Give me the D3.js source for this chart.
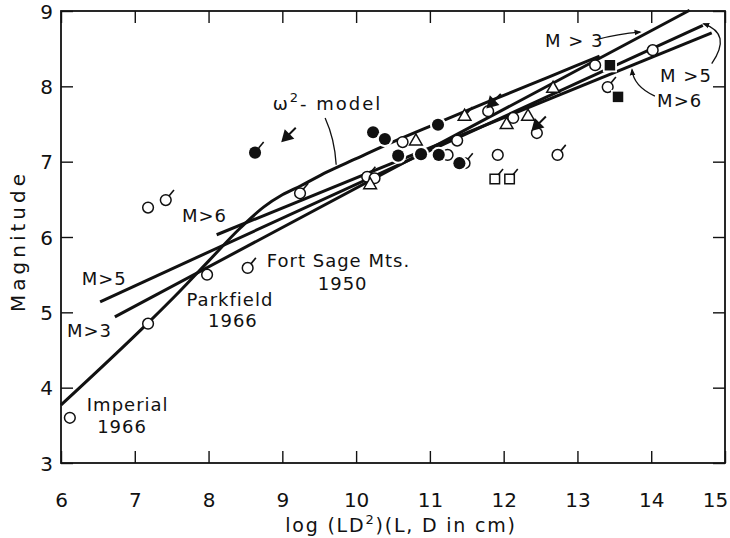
<!DOCTYPE html>
<html>
<head>
<meta charset="utf-8">
<script src="https://cdn.jsdelivr.net/npm/d3@7"></script>
<style>
  body { margin: 0; background: #fff; }
  svg text { font-family: "DejaVu Sans", "Liberation Sans", Arial, sans-serif; fill: #111; }
</style>
</head>
<body>
<div id="chart"></div>
<script>
// axis ticks
const xTicks = [6, 7, 8, 9, 10, 11, 12, 13, 14, 15];
const yTicks = [3, 4, 5, 6, 7, 8, 9];

// model curve and fitted lines, [log LD^2, M]
const omega2Model = [[6.0, 3.77], [7.18, 4.86], [7.6, 5.27], [8.0, 5.68], [8.43, 6.12], [8.75, 6.40],
  [9.0, 6.56], [9.25, 6.68], [9.6, 6.86], [10.0, 7.04], [10.4, 7.22], [11.0, 7.47], [11.8, 7.80],
  [12.6, 8.12], [13.3, 8.40]];
const lineM3 = [[6.73, 4.94], [14.52, 9.01]];
const lineM5 = [[6.53, 5.14], [14.70, 8.81]];
const lineM6 = [[8.11, 6.03], [14.82, 8.71]];

// events
const openCircles = [[6.12, 3.60], [7.18, 4.85], [7.98, 5.50], [7.18, 6.39], [10.25, 6.78], [10.63, 7.26],
  [11.24, 7.09], [11.37, 7.28], [11.92, 7.09], [11.79, 7.67], [12.13, 7.58], [13.24, 8.28],
  [14.02, 8.48], [12.45, 7.38]];
const openCirclesFlagged = [[8.53, 5.59], [7.42, 6.49], [9.24, 6.58], [10.15, 6.80], [12.73, 7.09],
  [13.41, 7.99], [11.47, 6.98]];
const filledCircles = [[10.23, 7.39], [10.39, 7.30], [10.57, 7.08], [10.88, 7.10], [11.11, 7.49],
  [11.12, 7.09], [11.40, 6.98]];
const filledCirclesFlagged = [[8.63, 7.12]];
const openTriangles = [[10.19, 6.69], [10.81, 7.27], [12.04, 7.49], [12.33, 7.60], [12.67, 7.97]];
const openTrianglesFlagged = [[11.47, 7.60]];
const arrowTriangles = [[9.06, 7.33], [11.84, 7.78], [12.45, 7.48]];
const openSquaresFlagged = [[11.88, 6.77], [12.08, 6.77]];
const filledSquares = [[13.44, 8.28], [13.55, 7.86]];

const W = 730, H = 538;
const margin = {left: 61, right: 5, top: 11, bottom: 75};

const svg = d3.select("#chart").append("svg")
  .attr("width", W).attr("height", H);

const x = d3.scaleLinear().domain([6, 15]).range([margin.left, W - margin.right]);
const y = d3.scaleLinear().domain([3, 9]).range([H - margin.bottom, margin.top]);

const defs = svg.append("defs");
defs.append("marker").attr("id", "head")
  .attr("viewBox", "0 0 10 10").attr("refX", 8).attr("refY", 5)
  .attr("markerWidth", 7).attr("markerHeight", 7).attr("markerUnits", "userSpaceOnUse")
  .attr("orient", "auto")
  .append("path").attr("d", "M0,1 L10,5 L0,9 Z").attr("fill", "#111");

// frame + inward ticks
svg.append("rect")
  .attr("x", x(6)).attr("y", y(9))
  .attr("width", x(15) - x(6)).attr("height", y(3) - y(9))
  .attr("fill", "none").attr("stroke", "#111").attr("stroke-width", 1.8);

const tick = 12;
const gx = svg.append("g").attr("transform", `translate(0,${y(3)})`)
  .call(d3.axisBottom(x).tickValues(xTicks).tickSizeInner(-tick).tickSizeOuter(0)
    .tickFormat(d3.format("d")));
gx.selectAll("text").attr("y", 44).attr("dy", 0).style("font-size", "20px")
  .attr("dx", d => d === 15 ? -10 : 0);
const gy = svg.append("g").attr("transform", `translate(${x(6)},0)`)
  .call(d3.axisLeft(y).tickValues(yTicks).tickSizeInner(-tick).tickSizeOuter(0).tickPadding(8)
    .tickFormat(d3.format("d")));
gy.selectAll("text").style("font-size", "20px").attr("dy", "0.36em");
svg.append("g").attr("transform", `translate(0,${y(9)})`)
  .call(d3.axisTop(x).tickValues(xTicks).tickSizeInner(-tick).tickSizeOuter(0).tickFormat(""));
svg.append("g").attr("transform", `translate(${x(15)},0)`)
  .call(d3.axisRight(y).tickValues(yTicks).tickSizeInner(-tick).tickSizeOuter(0).tickFormat(""));
svg.selectAll(".domain").remove();
svg.selectAll(".tick line").attr("stroke", "#111").attr("stroke-width", 1.4);
svg.selectAll(".tick text").attr("fill", "#111")
  .attr("font-family", "DejaVu Sans, Liberation Sans, Arial, sans-serif");

// axis titles
svg.append("text")
  .attr("transform", `translate(25,${(y(3) + y(9)) / 2 + 4}) rotate(-90)`)
  .attr("text-anchor", "middle").style("font-size", "20px").style("letter-spacing", "4px")
  .text("Magnitude");
const xl = svg.append("text")
  .attr("x", 401).attr("y", 532)
  .attr("text-anchor", "middle").style("font-size", "19px").style("letter-spacing", "1.8px");
xl.append("tspan").text("log (LD");
xl.append("tspan").attr("dy", -8).style("font-size", "13px").text("2");
xl.append("tspan").attr("dy", 8).text(")(L, D in cm)");

// lines
const line = d3.line().x(d => x(d[0])).y(d => y(d[1]));
const plot = svg.append("g");
[lineM3, lineM5, lineM6].forEach(l => {
  plot.append("path").attr("d", line(l))
    .attr("fill", "none").attr("stroke", "#111").attr("stroke-width", 3);
});
plot.append("path").attr("d", line.curve(d3.curveMonotoneX)(omega2Model))
  .attr("fill", "none").attr("stroke", "#111").attr("stroke-width", 3);
line.curve(d3.curveLinear);

// markers
const sym = (type, size) => d3.symbol().type(type).size(size)();
const pts = svg.append("g");

function drawSet(data, type, size, filled, flag) {
  const g = pts.append("g");
  data.forEach(d => {
    const cx = x(d[0]), cy = y(d[1]);
    const r = Math.sqrt(size / Math.PI);
    if (filled) {
      g.append("path").attr("d", sym(type, size * 1.8))
        .attr("transform", `translate(${cx},${cy})`).attr("fill", "#fff");
    }
    g.append("path").attr("d", sym(type, size))
      .attr("transform", `translate(${cx},${cy})`)
      .attr("fill", filled ? "#111" : "#fff")
      .attr("stroke", filled ? "none" : "#111")
      .attr("stroke-width", 1.5);
    if (flag) {
      g.append("line")
        .attr("x1", cx + r * 0.6).attr("y1", cy - r * 0.75)
        .attr("x2", cx + r * 0.6 + 5).attr("y2", cy - r * 0.75 - 6)
        .attr("stroke", "#111").attr("stroke-width", 1.6);
    }
  });
}

drawSet(openCirclesFlagged, d3.symbolCircle, 90, false, true);
drawSet(openCircles, d3.symbolCircle, 90, false, false);
drawSet(openTriangles, d3.symbolTriangle, 70, false, false);
drawSet(openTrianglesFlagged, d3.symbolTriangle, 70, false, true);
drawSet(openSquaresFlagged, d3.symbolSquare, 90, false, true);
drawSet(filledCircles, d3.symbolCircle, 115, true, false);
drawSet(filledCirclesFlagged, d3.symbolCircle, 115, true, true);
drawSet(filledSquares, d3.symbolSquare, 110, true, false);

// arrow-shaped markers (filled head pointing down-left, stem up-right)
arrowTriangles.forEach(d => {
  const cx = x(d[0]), cy = y(d[1]);
  const g = pts.append("g").attr("transform", `translate(${cx},${cy})`);
  g.append("line").attr("x1", 0).attr("y1", 0).attr("x2", 9).attr("y2", -9)
    .attr("stroke", "#111").attr("stroke-width", 2);
  g.append("path").attr("d", sym(d3.symbolTriangle, 80))
    .attr("transform", "rotate(225)").attr("fill", "#111");
});

// annotations (positions in data units)
const notes = [
  {t: "M>6", at: [7.64, 6.20]},
  {t: "M>5", at: [6.28, 5.36]},
  {t: "M>3", at: [6.08, 4.67]},
  {t: "Parkfield", at: [8.29, 5.08], mid: true},
  {t: "1966", at: [8.33, 4.81], mid: true},
  {t: "Fort Sage Mts.", at: [8.79, 5.60]},
  {t: "1950", at: [9.48, 5.30]},
  {t: "Imperial", at: [6.35, 3.69]},
  {t: "1966", at: [6.49, 3.40]},
  {t: "M > 3", at: [12.56, 8.52]},
  {t: "M >5", at: [14.12, 8.06]},
  {t: "M>6", at: [14.08, 7.73]}
];
notes.forEach(n => {
  svg.append("text").attr("x", x(n.at[0])).attr("y", y(n.at[1]))
    .attr("text-anchor", n.mid ? "middle" : "start")
    .style("font-size", "18px").style("letter-spacing", "1px")
    .text(n.t);
});
const om = svg.append("text").attr("x", x(8.87)).attr("y", y(7.69))
  .style("font-size", "18px").style("letter-spacing", "2px");
om.append("tspan").text("ω");
om.append("tspan").attr("dy", -8).style("font-size", "13px").text("2");
om.append("tspan").attr("dy", 8).text("- model");

const pointers = [
  {p: [[9.58, 7.58], [9.71, 7.30], [9.73, 6.96]], head: false},
  {p: [[13.26, 8.62], [13.55, 8.70], [13.85, 8.72]], head: true},
  {p: [[14.82, 8.30], [15.10, 8.70], [14.71, 8.83]], head: true},
  {p: [[14.05, 7.87], [13.76, 8.00], [13.74, 8.22]], head: true}
];
pointers.forEach(a => {
  const [s, c, e] = a.p;
  const path = d3.path();
  path.moveTo(x(s[0]), y(s[1]));
  path.quadraticCurveTo(x(c[0]), y(c[1]), x(e[0]), y(e[1]));
  svg.append("path").attr("d", path.toString())
    .attr("fill", "none").attr("stroke", "#111").attr("stroke-width", 1.3)
    .attr("marker-end", a.head ? "url(#head)" : null);
});
</script>
</body>
</html>
